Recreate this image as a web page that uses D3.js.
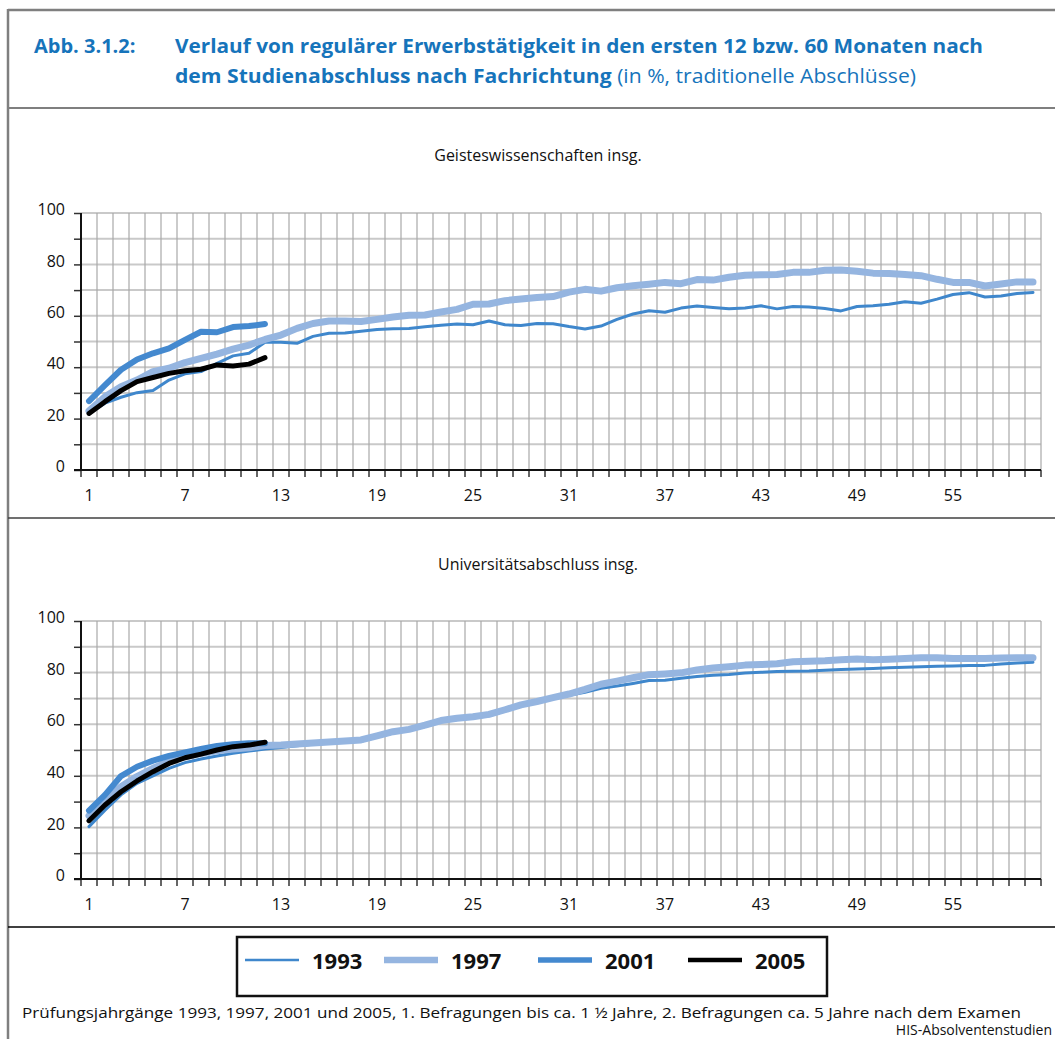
<!DOCTYPE html>
<html>
<head>
<meta charset="UTF-8">
<title>Abb. 3.1.2</title>
<script src="https://d3js.org/d3.v7.min.js"></script>
<style>
body { margin: 0; background: #fff; }
svg text { font-family: "Open Sans", "Noto Sans", sans-serif; }
</style>
</head>
<body>
<script>

/* Months 1..60 after graduation */
var months = d3.range(1, 61)
var monthLabels = [1, 7, 13, 19, 25, 31, 37, 43, 49, 55]
var yTickValues = [0, 10, 20, 30, 40, 50, 60, 70, 80, 90, 100]
var years = ['1993', '1997', '2001', '2005']

/* Geisteswissenschaften insg. */
var geist1993 = [22, 26, 28.3, 30.1, 30.9, 35, 37.4, 38.3, 41.5, 44.4, 45.4, 49.7, 49.7, 49.3, 52,
	53.2, 53.3, 54, 54.7, 55, 55.1, 55.7, 56.3, 56.8, 56.5, 58, 56.5, 56.2, 57, 56.9,
	55.8, 54.9, 56, 58.6, 60.7, 62, 61.4, 63, 63.8, 63.2, 62.7, 63, 63.9, 62.7, 63.6,
	63.4, 62.8, 61.9, 63.6, 63.9, 64.5, 65.5, 64.9, 66.5, 68.3, 69, 67.3, 67.7, 68.7, 69.1]
var geist1997 = [23, 28.5, 32.4, 35, 38.3, 39.6, 41.8, 43.4, 45.1, 47, 48.6, 50.8, 52.5, 55.1, 57,
	58, 58, 57.8, 58.6, 59.5, 60.2, 60.3, 61.5, 62.5, 64.5, 64.6, 65.9, 66.5, 67.1, 67.5,
	69.2, 70.3, 69.6, 70.9, 71.7, 72.3, 73, 72.5, 74.1, 73.9, 75, 75.8, 76, 76.1, 76.9,
	76.9, 77.7, 77.8, 77.3, 76.6, 76.5, 76.1, 75.6, 74.2, 73, 73, 71.6, 72.4, 73.2, 73.2]
var geist2001 = [26.8, 33, 39, 43, 45.4, 47.3, 50.6, 53.8, 53.6, 55.6, 56, 56.8]
var geist2005 = [22, 26.6, 30.9, 34.4, 36, 37.6, 38.6, 39.2, 40.9, 40.5, 41.2, 43.7]

/* Universitätsabschluss insg. */
var uni1993 = [20.3, 26.7, 32.6, 37.1, 40, 42.9, 45.1, 46.5, 47.7, 48.7, 49.6, 50.4, 51, 51.6, 52.2,
	52.7, 53.1, 53.4, 55, 56.6, 57.6, 59.1, 60.9, 61.8, 62.4, 63.3, 65.1, 67, 68.3, 69.8,
	71.2, 72.4, 73.9, 74.8, 75.8, 76.9, 77, 77.8, 78.5, 79, 79.3, 79.8, 80.1, 80.4, 80.5,
	80.6, 80.9, 81.2, 81.4, 81.6, 81.9, 82.1, 82.3, 82.5, 82.6, 82.8, 82.8, 83.3, 83.7, 84]
var uni1997 = [24.5, 30.6, 35.8, 39.7, 42.9, 45.5, 47.4, 48.7, 49.7, 50.4, 50.9, 51.7, 51.9, 52.3, 52.7,
	53.1, 53.5, 53.9, 55.5, 57.1, 58, 59.6, 61.4, 62.3, 62.9, 63.8, 65.6, 67.5, 68.8, 70.3,
	71.7, 73.5, 75.5, 76.7, 78, 79.2, 79.5, 79.9, 81, 81.8, 82.3, 82.9, 83.1, 83.4, 84.2,
	84.4, 84.6, 85, 85.3, 85, 85.2, 85.5, 85.8, 85.8, 85.5, 85.5, 85.5, 85.7, 85.8, 85.8]
var uni2001 = [26.5, 32.6, 39.9, 43.5, 45.9, 47.7, 49.1, 50.4, 51.6, 52.2, 52.6, 52.6]
var uni2005 = [22.6, 28.7, 33.8, 38, 41.6, 44.8, 47, 48.4, 50, 51.3, 51.9, 53]

/* Line styles per cohort */
var colors = { '1993': '#3f87cc', '1997': '#95b5e0', '2001': '#4489cf', '2005': '#000000' }
var widths = { '1993': 3, '1997': 7, '2001': 6, '2005': 5 }
var blue = '#1674bb'

var W = 1055, H = 1039
var svg = d3.select('body').append('svg')
	.attr('width', W)
	.attr('height', H)

/* Frame and separators */
svg.append('line').attr('x1', 8).attr('x2', W).attr('y1', 10).attr('y2', 10)
	.style('stroke', '#7f7f7f').style('stroke-width', 2.5)
svg.append('line').attr('x1', 8).attr('x2', 8).attr('y1', 9).attr('y2', H)
	.style('stroke', '#7f7f7f').style('stroke-width', 2.5)
svg.append('line').attr('x1', 8).attr('x2', W).attr('y1', 108).attr('y2', 108)
	.style('stroke', '#7f7f7f').style('stroke-width', 2)
svg.append('line').attr('x1', 8).attr('x2', W).attr('y1', 518).attr('y2', 518)
	.style('stroke', '#404040').style('stroke-width', 1.5)
svg.append('line').attr('x1', 8).attr('x2', W).attr('y1', 927).attr('y2', 927)
	.style('stroke', '#000').style('stroke-width', 1.5)

/* Header */
svg.append('text').attr('x', 34).attr('y', 53)
	.style('font-size', '20px').style('font-weight', 'bold').style('fill', blue)
	.text('Abb. 3.1.2:')
svg.append('text').attr('x', 175).attr('y', 53)
	.attr('textLength', 808).attr('lengthAdjust', 'spacingAndGlyphs')
	.style('font-size', '20px').style('font-weight', 'bold').style('fill', blue)
	.text('Verlauf von regulärer Erwerbstätigkeit in den ersten 12 bzw. 60 Monaten nach')
var t2 = svg.append('text').attr('x', 175).attr('y', 83)
	.attr('textLength', 741).attr('lengthAdjust', 'spacingAndGlyphs')
	.style('font-size', '20px').style('fill', blue)
t2.append('tspan').style('font-weight', 'bold').text('dem Studienabschluss nach Fachrichtung')
t2.append('tspan').text(' (in %, traditionelle Abschlüsse)')

/* One panel: grid, axes and the four cohort lines */
function draw_panel(title, titleY, top, bottom, series) {
	var x = d3.scaleBand().domain(months).range([81, 1041])
	var y = d3.scaleLinear().domain([0, 100]).range([bottom, top])
	var g = svg.append('g')

	g.append('text').attr('x', 538).attr('y', titleY)
		.attr('text-anchor', 'middle')
		.style('font-size', '16px').style('fill', '#111')
		.text(title)

	// horizontal grid every 10
	g.selectAll('line.hgrid').data(yTickValues.slice(1)).enter()
		.append('line').attr('class', 'hgrid')
		.attr('x1', 81).attr('x2', 1041)
		.attr('y1', function(d) { return y(d) }).attr('y2', function(d) { return y(d) })
		.style('stroke', '#c9c9c9').style('stroke-width', 2)

	// vertical grid at band boundaries
	var bounds = months.map(function(m) { return x(m) }).concat([x.range()[1]])
	g.selectAll('line.vgrid').data(bounds.slice(1)).enter()
		.append('line').attr('class', 'vgrid')
		.attr('x1', function(d) { return d }).attr('x2', function(d) { return d })
		.attr('y1', top).attr('y2', bottom)
		.style('stroke', '#a8a8a8').style('stroke-width', 1.2)

	// x tick marks at band boundaries
	g.selectAll('line.xtick').data(bounds).enter()
		.append('line').attr('class', 'xtick')
		.attr('x1', function(d) { return d }).attr('x2', function(d) { return d })
		.attr('y1', bottom).attr('y2', bottom + 7)
		.style('stroke', '#333').style('stroke-width', 1.5)

	// x labels
	var xAxis = d3.axisBottom(x).tickValues(monthLabels).tickSize(0).tickPadding(20)
	var xa = g.append('g').attr('transform', 'translate(0,' + bottom + ')').call(xAxis)
	xa.select('.domain').remove()
	xa.selectAll('text').style('font-size', '16px').style('fill', '#111')
		.attr('font-family', null)

	// y axis
	var yAxis = d3.axisLeft(y).tickValues(yTickValues).tickSize(7).tickPadding(9)
		.tickFormat(function(d) { return d % 20 == 0 ? d : '' })
	var ya = g.append('g').attr('transform', 'translate(81,0)').call(yAxis)
	ya.select('.domain').remove()
	ya.selectAll('line').style('stroke', '#333').style('stroke-width', 1.5)
	ya.selectAll('text').style('font-size', '16px').style('fill', '#111')
		.attr('dy', '0.1em').attr('font-family', null)

	// axis lines
	g.append('line').attr('x1', 81).attr('x2', 81).attr('y1', top).attr('y2', bottom)
		.style('stroke', '#111').style('stroke-width', 2)
	g.append('line').attr('x1', 74).attr('x2', 1041).attr('y1', bottom).attr('y2', bottom)
		.style('stroke', '#111').style('stroke-width', 2)

	// lines
	var line = d3.line()
		.x(function(d, i) { return x(i + 1) + x.bandwidth() / 2 })
		.y(function(d) { return y(d) })
	years.forEach(function(yr, k) {
		g.append('path').datum(series[k])
			.attr('d', line)
			.style('fill', 'none')
			.style('stroke', colors[yr])
			.style('stroke-width', widths[yr])
			.style('stroke-linejoin', 'round')
			.style('stroke-linecap', 'round')
	})
}

draw_panel('Geisteswissenschaften insg.', 161, 213, 470, [geist1993, geist1997, geist2001, geist2005])
draw_panel('Universitätsabschluss insg.', 570, 621, 879, [uni1993, uni1997, uni2001, uni2005])

/* Legend */
var lg = svg.append('g')
lg.append('rect').attr('x', 237).attr('y', 937).attr('width', 590).attr('height', 59)
	.style('fill', 'none').style('stroke', '#111').style('stroke-width', 2.5)
var legendX = [245, 384, 538, 688]
years.forEach(function(yr, k) {
	lg.append('line').attr('x1', legendX[k]).attr('x2', legendX[k] + 54)
		.attr('y1', 960).attr('y2', 960)
		.style('stroke', colors[yr]).style('stroke-width', widths[yr] - 0.5)
	lg.append('text').attr('x', legendX[k] + 67).attr('y', 969)
		.style('font-size', '22px').style('font-weight', 'bold').style('fill', '#111')
		.text(yr)
})

/* Footer */
svg.append('text').attr('x', 22).attr('y', 1018)
	.attr('textLength', 999).attr('lengthAdjust', 'spacingAndGlyphs')
	.style('font-size', '15px').style('fill', '#111')
	.text('Prüfungsjahrgänge 1993, 1997, 2001 und 2005, 1. Befragungen bis ca. 1 ½ Jahre, 2. Befragungen ca. 5 Jahre nach dem Examen')
svg.append('text').attr('x', 1052).attr('y', 1035)
	.attr('text-anchor', 'end')
	.style('font-size', '14px').style('fill', '#111')
	.text('HIS-Absolventenstudien')

</script>
</body>
</html>
